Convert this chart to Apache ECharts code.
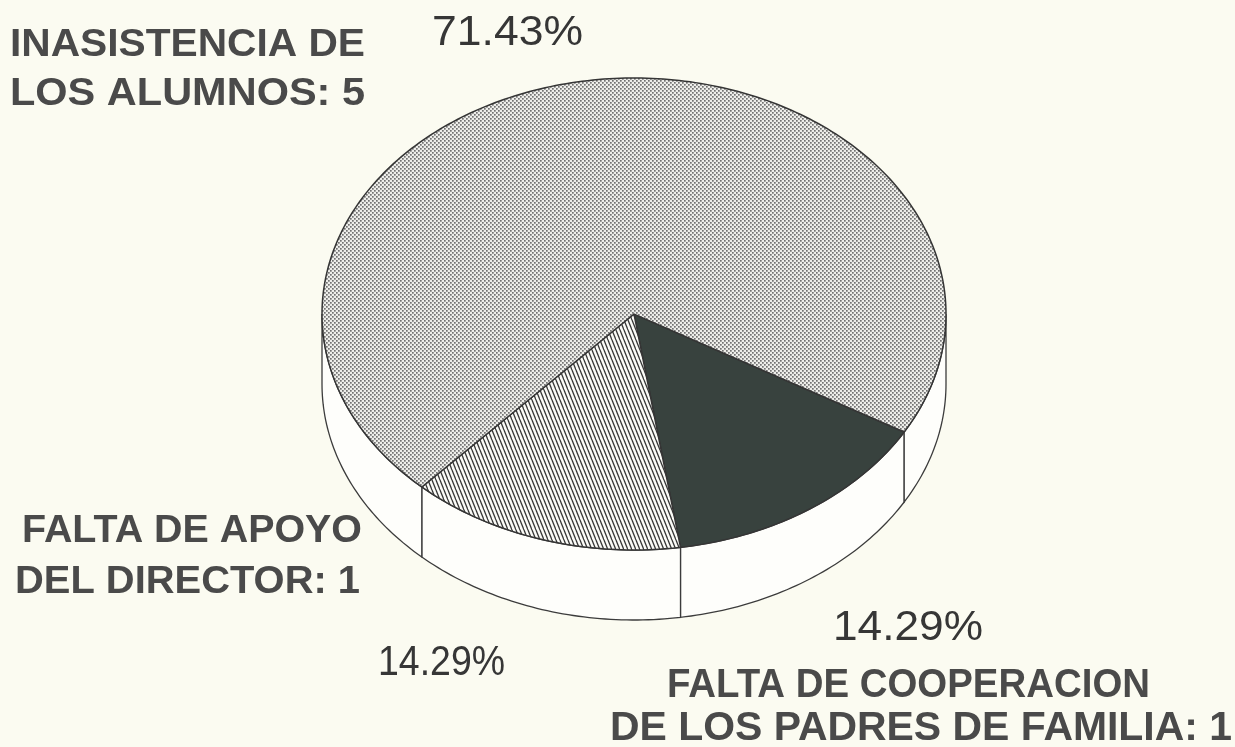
<!DOCTYPE html>
<html>
<head>
<meta charset="utf-8">
<script src="https://cdn.jsdelivr.net/npm/echarts@6/dist/echarts.min.js"></script>
<style>
  html, body { margin: 0; padding: 0; background: #fbfbf1; }
  #chart { width: 1235px; height: 747px; }
</style>
</head>
<body>
<div id="chart"></div>
<script>
// slices, clockwise from the start angle
const causes = ['FALTA DE COOPERACION DE LOS PADRES DE FAMILIA', 'FALTA DE APOYO DEL DIRECTOR', 'INASISTENCIA DE LOS ALUMNOS'];
const counts = [1, 1, 5];
const labelLines = [
    ['FALTA DE COOPERACION', 'DE LOS PADRES DE FAMILIA'],
    ['FALTA DE APOYO', 'DEL DIRECTOR'],
    ['INASISTENCIA DE', 'LOS ALUMNOS']
];
const startAngle = 30; // degrees, clockwise from 3 o'clock

const total = counts.reduce((a, b) => a + b, 0);
const pct = counts.map(v => (v / total * 100).toFixed(2) + '%');

// tilted pie geometry
const cx = 634, cy = 314, rx = 312, ry = 236, depth = 70;

function makePattern(w, h, draw) {
    const c = document.createElement('canvas');
    c.width = w; c.height = h;
    draw(c.getContext('2d'));
    return { image: c, repeat: 'repeat' };
}

const dots = makePattern(4, 4, ctx => {
    ctx.fillStyle = '#eeeeea';
    ctx.fillRect(0, 0, 4, 4);
    ctx.fillStyle = '#727272';
    ctx.fillRect(0, 0, 1.7, 1.7);
    ctx.fillRect(2, 2, 1.7, 1.7);
});
const hatch = makePattern(4, 10, ctx => {
    ctx.fillStyle = '#fbfbf7';
    ctx.fillRect(0, 0, 4, 10);
    ctx.strokeStyle = '#333333';
    ctx.lineWidth = 1.3;
    [-4, 0, 4].forEach(o => { ctx.beginPath(); ctx.moveTo(o, 0); ctx.lineTo(o + 4, 10); ctx.stroke(); });
});
const fills = ['#38423e', hatch, dots];

function renderItem(params, api) {
    const i = params.dataIndex;
    let before = 0;
    for (let k = 0; k < i; k++) before += counts[k];
    const a0 = startAngle + before / total * 360;
    const a1 = a0 + api.value(0) / total * 360;
    const pt = (a, dy) => {
        const r = a * Math.PI / 180;
        return [cx + rx * Math.cos(r), cy + ry * Math.sin(r) + dy];
    };
    const arc = (b0, b1, dy) => {
        const n = Math.max(2, Math.ceil(b1 - b0));
        const out = [];
        for (let j = 0; j <= n; j++) out.push(pt(b0 + (b1 - b0) * j / n, dy));
        return out;
    };
    const children = [];
    // front wall (only the half facing the viewer)
    [[0, 180], [360, 540]].forEach(([f0, f1]) => {
        const b0 = Math.max(a0, f0), b1 = Math.min(a1, f1);
        if (b1 > b0) {
            children.push({
                type: 'polygon',
                shape: { points: arc(b0, b1, 0).concat(arc(b0, b1, depth).reverse()) },
                style: { fill: '#fefefb', stroke: '#3c3c3c', lineWidth: 1.3 }
            });
        }
    });
    children.push({
        type: 'polygon',
        shape: { points: [[cx, cy]].concat(arc(a0, a1, 0)) },
        style: { fill: fills[i], stroke: '#353535', lineWidth: 1.5 }
    });
    return { type: 'group', children };
}

// text fitted to the width it has in the scan
const mctx = document.createElement('canvas').getContext('2d');
function fitText(text, font, fill, left, right, mid) {
    mctx.font = font;
    const w = mctx.measureText(text).width;
    return {
        type: 'text', x: (left + right) / 2, y: mid, scaleX: (right - left) / w,
        style: { text, font, fill, textAlign: 'center', textVerticalAlign: 'middle', align: 'center', verticalAlign: 'middle' }
    };
}

const boldFont = 'bold 38px "Liberation Sans", Arial, sans-serif';
const bigBold = 'bold 41px "Liberation Sans", Arial, sans-serif';
const pctFont = '42px "Liberation Sans", Arial, sans-serif';
const labelColor = '#4a4a4a', pctColor = '#363636';

// [left, right, middle] per text line
const namePos = [
    [[667, 1150, 686], [610, 1232, 729]],
    [[22, 362, 532], [15, 360, 583]],
    [[10, 365, 46], [10, 365, 95]]
];
const pctPos = [[833, 983, 628], [378, 505, 663], [432, 583, 33]];

const graphics = [];
counts.forEach((v, i) => {
    const lines = [labelLines[i][0], labelLines[i][1] + ': ' + v];
    const font = i === 0 ? bigBold : boldFont;
    lines.forEach((t, j) => {
        const p = namePos[i][j];
        graphics.push(fitText(t, font, labelColor, p[0], p[1], p[2]));
    });
    const q = pctPos[i];
    graphics.push(fitText(pct[i], pctFont, pctColor, q[0], q[1], q[2]));
});

const chart = echarts.init(document.getElementById('chart'));
chart.setOption({
    backgroundColor: '#fbfbf1',
    animation: false,
    graphic: graphics,
    series: [{
        type: 'custom',
        coordinateSystem: 'none',
        renderItem: renderItem,
        data: counts.map((v, i) => ({ name: causes[i], value: [v] }))
    }]
});
</script>
</body>
</html>
